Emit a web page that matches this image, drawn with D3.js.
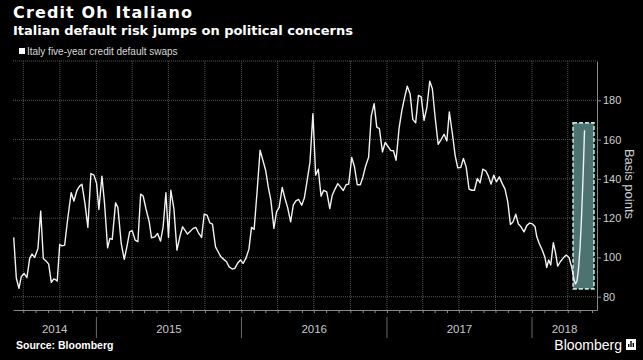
<!DOCTYPE html>
<html>
<head>
<meta charset="utf-8">
<title>Credit Oh Italiano</title>
<script src="https://cdn.jsdelivr.net/npm/d3@7"></script>
<style>
  body { margin: 0; background: #000; }
  svg { display: block; font-family: "Liberation Sans", Arial, sans-serif; }
</style>
</head>
<body>
<svg width="643" height="360"></svg>
<script>
// weekly readings, date written as decimal year
var weeks = [2014.430,2014.448,2014.466,2014.482,2014.501,2014.521,2014.540,2014.556,2014.574,2014.597,
  2014.616,2014.634,2014.654,2014.671,2014.689,2014.705,2014.716,2014.730,2014.747,2014.762,
  2014.781,2014.804,2014.826,2014.845,2014.866,2014.884,2014.900,2014.921,2014.941,2014.962,
  2014.983,2015.001,2015.017,2015.038,2015.056,2015.077,2015.093,2015.109,2015.132,2015.148,
  2015.171,2015.192,2015.210,2015.229,2015.247,2015.267,2015.286,2015.305,2015.322,2015.341,
  2015.364,2015.380,2015.403,2015.422,2015.442,2015.460,2015.479,2015.497,2015.513,2015.534,
  2015.555,2015.575,2015.594,2015.610,2015.628,2015.649,2015.667,2015.685,2015.706,2015.725,
  2015.743,2015.763,2015.782,2015.800,2015.821,2015.839,2015.858,2015.878,2015.897,2015.915,
  2015.936,2015.954,2015.973,2015.993,2016.011,2016.030,2016.051,2016.069,2016.087,2016.108,
  2016.128,2016.147,2016.166,2016.184,2016.202,2016.223,2016.241,2016.259,2016.280,2016.299,
  2016.317,2016.338,2016.356,2016.374,2016.393,2016.414,2016.432,2016.450,2016.471,2016.491,
  2016.510,2016.528,2016.547,2016.565,2016.586,2016.607,2016.624,2016.643,2016.662,2016.682,
  2016.700,2016.719,2016.737,2016.758,2016.777,2016.796,2016.817,2016.835,2016.853,2016.874,
  2016.892,2016.912,2016.930,2016.948,2016.969,2016.988,2017.006,2017.027,2017.045,2017.063,
  2017.084,2017.103,2017.120,2017.140,2017.160,2017.178,2017.198,2017.217,2017.236,2017.256,
  2017.275,2017.295,2017.313,2017.332,2017.353,2017.373,2017.394,2017.413,2017.430,2017.451,
  2017.470,2017.488,2017.509,2017.527,2017.546,2017.566,2017.585,2017.603,2017.623,2017.642,
  2017.661,2017.681,2017.699,2017.718,2017.736,2017.754,2017.775,2017.794,2017.814,2017.833,
  2017.851,2017.869,2017.888,2017.906,2017.924,2017.945,2017.964,2017.984,2018.002,2018.021,
  2018.033,2018.050,2018.071,2018.090,2018.101,2018.115,2018.129,2018.147,2018.163,2018.177,
  2018.195,2018.216,2018.236,2018.255,2018.274,2018.290,2018.300,2018.310,2018.321,2018.331,
  2018.340,2018.348,2018.356,2018.362];

// Italy five-year CDS, basis points
var cds = [110.2,89.4,84.3,90.2,91.9,89.7,99.5,101.7,100.0,104.6,
  123.6,99.5,98.1,96.6,87.3,89.0,88.8,88.0,106.6,105.9,
  106.3,120.7,132.9,128.7,134.2,136.3,137.3,127.5,115.3,142.7,
  141.9,137.7,124.4,141.4,127.5,104.9,109.7,109.2,127.8,125.5,
  107.1,99.0,105.4,113.0,113.6,108.8,108.0,132.2,131.3,124.9,
  118.1,110.0,110.5,112.2,108.3,115.6,132.9,110.2,134.2,124.9,
  103.7,110.5,115.6,113.9,111.9,113.4,114.8,115.3,112.2,110.2,
  122.0,121.5,117.6,117.0,105.4,102.9,100.3,99.0,97.8,95.2,
  94.1,94.4,97.0,98.7,97.0,99.5,104.1,115.3,114.3,134.2,
  154.6,149.5,144.4,135.9,129.2,114.8,123.2,125.5,135.6,130.0,
  125.5,118.1,126.6,128.8,129.5,126.6,130.2,138.5,148.5,173.2,
  141.9,144.9,131.2,134.2,133.4,124.9,131.7,134.8,137.6,135.8,
  134.1,137.0,137.3,150.9,146.1,137.0,137.0,141.0,146.4,151.0,
  171.9,178.3,166.3,165.6,153.7,158.5,156.6,154.4,154.3,149.5,
  166.0,174.9,180.8,187.2,183.2,170.3,168.5,182.5,181.7,169.8,
  176.3,189.7,185.9,171.5,157.6,160.0,162.7,159.3,174.1,163.1,
  152.0,145.6,145.8,150.4,146.1,134.8,134.2,134.2,140.2,138.0,
  144.9,144.1,141.4,137.3,141.9,138.5,141.0,137.7,134.8,128.3,
  116.8,118.1,122.0,117.0,115.6,113.0,116.2,117.5,117.1,115.6,
  110.5,107.1,103.7,99.8,94.9,98.7,96.1,107.5,102.1,95.6,
  97.8,99.8,101.2,100.0,94.9,88.5,86.5,88.0,94.6,104.8,
  118.0,133.2,150.5,164.7];

var yTicks = [80, 100, 120, 140, 160, 180];
var yTop = 200;
var xStart = 2014.425, xEnd = 2018.448;
// shaded box round the latest jump
var boxSpan = [2018.283, 2018.427];
var boxRange = [84, 168.5];

function toDate(yr) {
  var y0 = Math.floor(yr);
  var a = Date.UTC(y0, 0, 1), b = Date.UTC(y0 + 1, 0, 1);
  return new Date(a + (yr - y0) * (b - a));
}

(function() {
var svg = d3.select("svg");
svg.append("rect").attr("width", 643).attr("height", 360).attr("fill", "#000");

var pl = 13, pr = 597, pt = 61, pb = 310;

var x = d3.scaleUtc().domain([toDate(xStart), toDate(xEnd)]).range([pl, pr]);
var y = d3.scaleLinear().domain([73.24, yTop]).range([pb, pt]);

// grid
svg.append("g").selectAll("line")
  .data(yTicks.concat([yTop]))
  .enter().append("line")
  .attr("x1", pl).attr("x2", pr)
  .attr("y1", function(d) { return y(d); })
  .attr("y2", function(d) { return y(d); })
  .attr("stroke", "#555")
  .attr("stroke-dasharray", "1,1");

svg.append("g").selectAll("line")
  .data(d3.utcMonth.every(3).range(x.domain()[0], x.domain()[1]))
  .enter().append("line")
  .attr("x1", function(d) { return x(d); })
  .attr("x2", function(d) { return x(d); })
  .attr("y1", pt).attr("y2", pb)
  .attr("stroke", "#555")
  .attr("stroke-dasharray", "1,1");

// highlight box
svg.append("rect")
  .attr("x", x(toDate(boxSpan[0])))
  .attr("width", x(toDate(boxSpan[1])) - x(toDate(boxSpan[0])))
  .attr("y", y(boxRange[1]))
  .attr("height", y(boxRange[0]) - y(boxRange[1]))
  .attr("fill", "#4d7371")
  .attr("stroke", "#b9e6e0")
  .attr("stroke-width", 1.6)
  .attr("stroke-dasharray", "4,2");

// line
var line = d3.line()
  .x(function(d, i) { return x(toDate(weeks[i])); })
  .y(function(d) { return y(d); });

svg.append("path")
  .datum(cds)
  .attr("d", line)
  .attr("fill", "none")
  .attr("stroke", "#f2f2f2")
  .attr("stroke-width", 1.4)
  .attr("stroke-linejoin", "round");

// bottom axis, monthly ticks
var xAxis = svg.append("g")
  .attr("transform", "translate(0," + pb + ")")
  .call(d3.axisBottom(x).ticks(d3.utcMonth.every(1)).tickSize(3).tickSizeOuter(0).tickFormat(""));
xAxis.selectAll("path, line").attr("stroke", "#8a8a8a");

// year separators and labels
var yearStarts = d3.utcYear.range(x.domain()[0], x.domain()[1]);
svg.append("g").selectAll("line")
  .data(yearStarts)
  .enter().append("line")
  .attr("x1", function(d) { return x(d); })
  .attr("x2", function(d) { return x(d); })
  .attr("y1", 317).attr("y2", 338)
  .attr("stroke", "#6a6a6a");

var bounds = [x.domain()[0]].concat(yearStarts).concat([x.domain()[1]]);
svg.append("g").selectAll("text")
  .data(d3.range(bounds.length - 1))
  .enter().append("text")
  .attr("x", function(i) { return (x(bounds[i]) + x(bounds[i + 1])) / 2; })
  .attr("y", 333)
  .attr("text-anchor", "middle")
  .attr("fill", "#c8c8c8")
  .attr("font-size", 11.5)
  .text(function(i) { return d3.utcFormat("%Y")(bounds[i]); });

// right axis
var yAxis = svg.append("g")
  .attr("transform", "translate(" + pr + ",0)")
  .call(d3.axisRight(y).tickValues(yTicks).tickSize(4).tickSizeOuter(0).tickPadding(2));
yAxis.selectAll("path, line").attr("stroke", "#8a8a8a");
yAxis.selectAll("text").attr("fill", "#cfcfcf").attr("font-size", 11).attr("font-family", "Liberation Sans, Arial");

svg.append("text")
  .attr("transform", "translate(625,184) rotate(90)")
  .attr("text-anchor", "middle")
  .attr("fill", "#cfcfcf")
  .attr("font-size", 13)
  .text("Basis points");

// titles
svg.append("text").attr("x", 13).attr("y", 18)
  .attr("fill", "#fff").attr("font-weight", "bold").attr("font-size", 16)
  .attr("font-family", "DejaVu Sans")
  .attr("textLength", 179).attr("lengthAdjust", "spacing")
  .text("Credit Oh Italiano");
svg.append("text").attr("x", 13).attr("y", 35)
  .attr("fill", "#fff").attr("font-weight", "bold").attr("font-size", 13)
  .attr("font-family", "DejaVu Sans")
  .attr("textLength", 340).attr("lengthAdjust", "spacing")
  .text("Italian default risk jumps on political concerns");

// legend
svg.append("rect").attr("x", 19).attr("y", 48).attr("width", 6).attr("height", 6).attr("fill", "#fff");
svg.append("text").attr("x", 27).attr("y", 55)
  .attr("fill", "#d8d8d8").attr("font-size", 10)
  .text("Italy five-year credit default swaps");

// footer
svg.append("text").attr("x", 16).attr("y", 349)
  .attr("fill", "#fff").attr("font-weight", "bold").attr("font-size", 10.5)
  .text("Source: Bloomberg");
svg.append("text").attr("x", 622).attr("y", 350)
  .attr("text-anchor", "end")
  .attr("fill", "#fff").attr("font-size", 14)
  .text("Bloomberg");
var logo = svg.append("g").attr("transform", "translate(626,339)");
logo.append("rect").attr("width", 10).attr("height", 11).attr("fill", "#fff");
logo.selectAll(".b").data([3, 6, 4]).enter().append("rect")
  .attr("x", function(d, i) { return 2 + i * 2.3; })
  .attr("y", function(d) { return 8 - d; })
  .attr("width", 1.4)
  .attr("height", function(d) { return d; })
  .attr("fill", "#000");
})();
</script>
</body>
</html>
